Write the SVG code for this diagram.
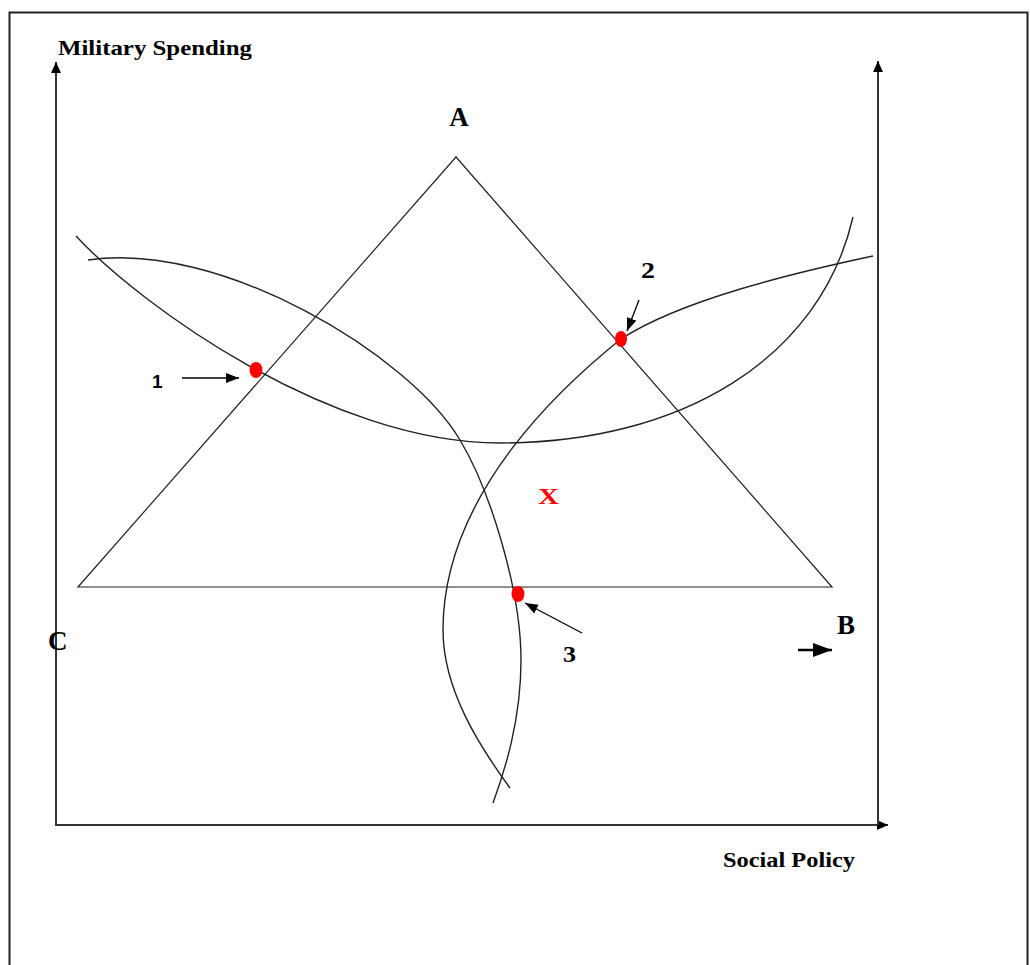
<svg xmlns="http://www.w3.org/2000/svg" width="1030" height="965" viewBox="0 0 1030 965">
<style>
.axis{stroke:#333;stroke-width:2;fill:none}
.tri{stroke:#222;stroke-width:1.2;fill:none}
.curve{stroke:#222;stroke-width:1.4;fill:none}
.ptr{stroke:#000;stroke-width:1.3;fill:none}
.lbl{font-family:"Liberation Serif","Times New Roman",serif;font-weight:bold;fill:#000}
.dot{fill:#ff0000}
</style>
<defs>
<marker id="ax" markerUnits="userSpaceOnUse" markerWidth="12" markerHeight="12" refX="11" refY="5" orient="auto">
<path d="M0,0 L11,5 L0,10 Z" fill="#000"/>
</marker>
<marker id="pa" markerUnits="userSpaceOnUse" markerWidth="14" markerHeight="12" refX="13" refY="5" orient="auto">
<path d="M0,0 L13,5 L0,10 Z" fill="#000"/>
</marker>
<marker id="pb" markerUnits="userSpaceOnUse" markerWidth="20" markerHeight="16" refX="19" refY="7" orient="auto">
<path d="M0,0 L19,7 L0,14 Z" fill="#000"/>
</marker>
</defs>
<rect x="0" y="0" width="1030" height="965" fill="#fff"/>
<rect x="9.5" y="12.5" width="1018" height="970" fill="none" stroke="#222" stroke-width="2"/>
<g id="axes">
<line class="axis" x1="56" y1="825" x2="56" y2="62" marker-end="url(#ax)"/>
<line class="axis" x1="55" y1="825" x2="888" y2="825" marker-end="url(#ax)"/>
<line class="axis" x1="878" y1="825" x2="878" y2="61" marker-end="url(#ax)"/>
</g>
<g id="triangle">
<polygon class="tri" points="456,157 832,587 78,587"/>
</g>
<g id="curves">
<path id="curve-u" class="curve" d="M76,236 C140,305 330,443 500,443 C680,443 820,360 853,217"/>
<path id="curve-d" class="curve" d="M88,260 C220,240 410,355 460,440 C490,490 521,590 521,660 C521,720 505,770 493,803"/>
<path id="curve-e" class="curve" d="M873,256 C793,273 681,300 621,339 C570,380 443,490 443,630 C443,690 480,747 510,788"/>
</g>
<g id="points">
<ellipse id="p1" class="dot" cx="256" cy="370" rx="6.5" ry="8"/>
<ellipse id="p2" class="dot" cx="621" cy="339" rx="6" ry="8"/>
<ellipse id="p3" class="dot" cx="518" cy="594" rx="6.5" ry="8"/>
</g>
<g id="connectors">
<line class="ptr" x1="182" y1="378" x2="239" y2="378" marker-end="url(#pa)"/>
<line class="ptr" x1="639" y1="300" x2="627" y2="331" marker-end="url(#pa)"/>
<line class="ptr" x1="582" y1="633" x2="525" y2="603" marker-end="url(#pa)"/>
<line stroke="#000" stroke-width="2.5" x1="798" y1="650" x2="832" y2="650" marker-end="url(#pb)"/>
</g>
<g id="labels">
<text class="lbl" x="58" y="55" font-size="21" textLength="194" lengthAdjust="spacingAndGlyphs">Military Spending</text>
<text class="lbl" x="723" y="867" font-size="21" textLength="132" lengthAdjust="spacingAndGlyphs">Social Policy</text>
<text class="lbl" x="459" y="126" font-size="27" text-anchor="middle">A</text>
<text class="lbl" x="837" y="634" font-size="27">B</text>
<text class="lbl" x="48" y="650" font-size="27">C</text>
<text x="152" y="388" font-size="19" font-family="'Liberation Sans',Arial,sans-serif" font-weight="900" fill="#000">1</text>
<text class="lbl" x="641" y="278" font-size="23" textLength="14" lengthAdjust="spacingAndGlyphs">2</text>
<text class="lbl" x="563" y="662" font-size="23" textLength="13" lengthAdjust="spacingAndGlyphs">3</text>
<text class="lbl" x="538" y="504" font-size="24" fill="#ff0000" style="fill:#ff0000" textLength="21" lengthAdjust="spacingAndGlyphs">X</text>
</g>
</svg>
